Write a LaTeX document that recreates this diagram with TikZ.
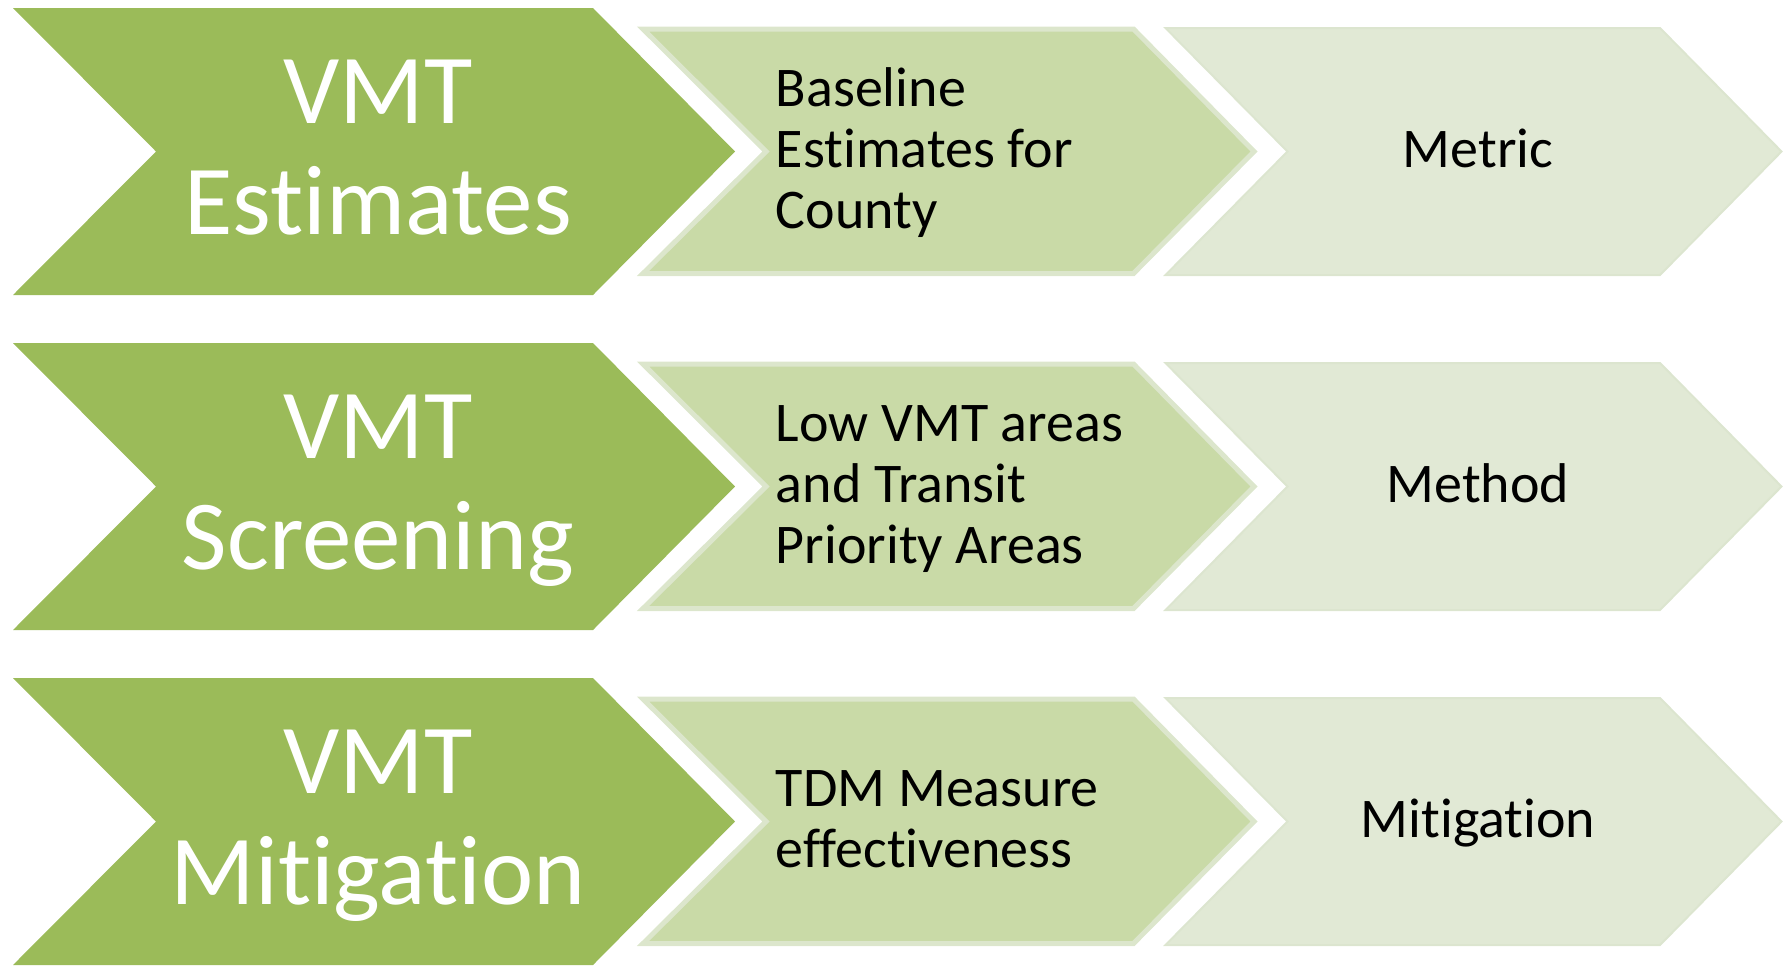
\documentclass[tikz,border=0pt]{standalone}
\usepackage{fontspec}
\setmainfont{Carlito}[Ligatures={NoCommon}]
\definecolor{bigc}{HTML}{9BBB59}
\definecolor{midfill}{HTML}{C9DAA7}
\definecolor{midborder}{HTML}{DCE6CC}
\definecolor{lightfill}{HTML}{E1E9D5}
\definecolor{lightborder}{HTML}{DCE5CF}
\newcommand\chevshape[8]{\path[#1] (#2,#6) -- (#4,#6) -- (#5,#8) -- (#4,#7) -- (#2,#7) -- (#3,#8) -- cycle;}
\begin{document}
\begin{tikzpicture}[x=0.5pt,y=-0.5pt,
  bigs/.style={fill=bigc},
  mids/.style={fill=midfill,draw=midborder,line width=2.5pt,line join=miter},
  lights/.style={fill=lightfill,draw=lightborder,line width=1pt,line join=miter},
  bigtext/.style={text=white,font=\fontsize{49.5}{55.5}\selectfont,align=center,inner sep=0pt},
  midtext/.style={text=black,font=\fontsize{28}{30.5}\selectfont,align=left,anchor=west,inner sep=0pt},
  lighttext/.style={text=black,font=\fontsize{28}{30.5}\selectfont,inner sep=0pt}]
\useasboundingbox (0,0) rectangle (1787,965);
% row 1
\begin{scope}
\chevshape{bigs}{13}{156}{593}{735}{8}{295}{151.5}
\chevshape{mids}{643}{766}{1133.5}{1254}{29}{273.5}{151.5}
\chevshape{lights}{1165.5}{1287.5}{1660}{1781.5}{28}{275}{151.5}
\node[bigtext] (b1) at (378,153) {VMT\vphantom{l}\\Estimates\vphantom{g}};
\node[midtext] (m1) at (775.5,152.5) {Baseline\vphantom{l}\\Estimates for\\County\vphantom{g}};
\node[lighttext] (l1) at (1478,152.5) {Metric\vphantom{lg}};
\end{scope}
% row 2
\begin{scope}[shift={(0,335)}]
\chevshape{bigs}{13}{156}{593}{735}{8}{295}{151.5}
\chevshape{mids}{643}{766}{1133.5}{1254}{29}{273.5}{151.5}
\chevshape{lights}{1165.5}{1287.5}{1660}{1781.5}{28}{275}{151.5}
\node[bigtext] (b2) at (378,153) {VMT\vphantom{l}\\Screening\vphantom{g}};
\node[midtext] (m2) at (775.5,152.5) {Low VMT areas\vphantom{l}\\and Transit\\Priority Areas\vphantom{g}};
\node[lighttext] (l2) at (1478,152.5) {Method\vphantom{lg}};
\end{scope}
% row 3
\begin{scope}[shift={(0,670)}]
\chevshape{bigs}{13}{156}{593}{735}{8}{295}{151.5}
\chevshape{mids}{643}{766}{1133.5}{1254}{29}{273.5}{151.5}
\chevshape{lights}{1165.5}{1287.5}{1660}{1781.5}{28}{275}{151.5}
\node[bigtext] (b3) at (378,153) {VMT\vphantom{l}\\Mitigation\vphantom{g}};
\node[midtext] (m3) at (775.5,152.5) {TDM Measure\vphantom{l}\\effectiveness\vphantom{g}};
\node[lighttext] (l3) at (1478,152.5) {Mitigation\vphantom{lg}};
\end{scope}
\end{tikzpicture}
\end{document}
